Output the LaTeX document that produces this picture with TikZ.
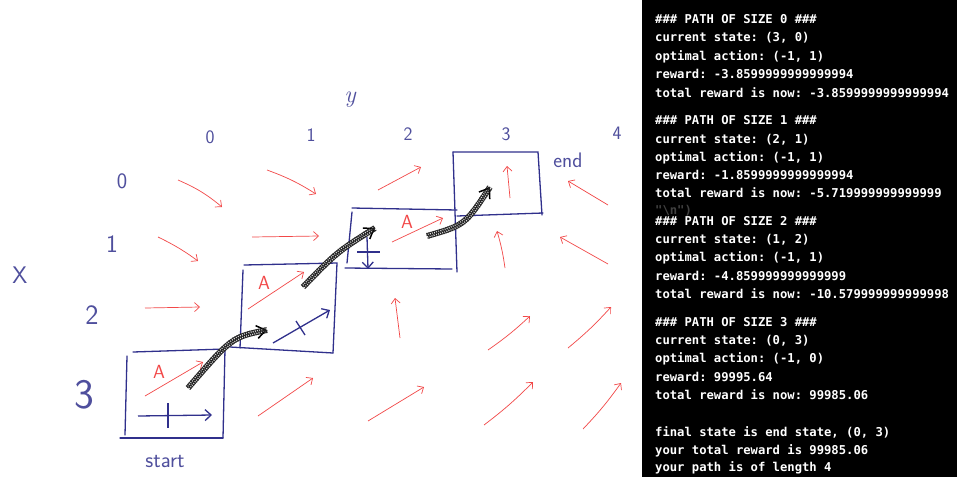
\documentclass[tikz,border=0pt]{standalone}
\usepackage{fontspec}
\setmonofont{DejaVu Sans Mono}
\usetikzlibrary{arrows.meta,decorations.pathmorphing,decorations.markings}
\definecolor{pen}{RGB}{48,48,140}
\definecolor{ink}{RGB}{242,72,72}
\tikzset{
  gridlabel/.style={text=pen!85, font=\sffamily, inner sep=0pt},
  actlabel/.style={text=ink, font=\sffamily\fontsize{19}{20}\selectfont, inner sep=0pt},
  move/.style={ink, line width=0.7pt, -{Straight Barb[length=5pt,width=9pt]}},
  bluemove/.style={pen, line width=1.3pt, -{Straight Barb[length=6pt,width=11pt]}},
  cell/.style={pen, line width=1.3pt, line cap=round},
  hatchpath/.style={black!85, line width=1.1pt, double=white, double distance=3.6pt},
  hatchfill/.style={black!85, line width=0.8pt, decorate,
    decoration={zigzag, amplitude=1.9pt, segment length=2.2pt}},
  hatchtip/.style={postaction={decorate, decoration={markings,
    mark=at position 1 with {\arrow[black, line width=1.5pt]{Straight Barb[length=9pt,width=13pt]}}}}},
  termline/.style={text=white, font=\ttfamily\bfseries\fontsize{12.2}{14}\selectfont,
    anchor=west, inner sep=0pt, text height=9pt, text depth=2.5pt},
}

\begin{document}
\begin{tikzpicture}[x=1pt,y=-1pt]
\useasboundingbox (0,0) rectangle (957,477);
\fill[white] (0,0) rectangle (957,477);

\node[gridlabel, font=\itshape\fontsize{24}{24}\selectfont] (ylab) at (350,100) {y};
\node[gridlabel, font=\sffamily\fontsize{19}{19}\selectfont] (c0) at (210,137) {0};
\node[gridlabel, font=\sffamily\fontsize{19}{19}\selectfont] (c1) at (311,135) {1};
\node[gridlabel, font=\sffamily\fontsize{19}{19}\selectfont] (c2) at (408,134) {2};
\node[gridlabel, font=\sffamily\fontsize{19}{19}\selectfont] (c3) at (506,134) {3};
\node[gridlabel, font=\sffamily\fontsize{19}{19}\selectfont] (c4) at (617,133) {4};
\node[gridlabel, font=\sffamily\fontsize{22}{22}\selectfont] (r0) at (122,181) {0};
\node[gridlabel, font=\sffamily\fontsize{25}{25}\selectfont] (r1) at (112,244) {1};
\node[gridlabel, font=\sffamily\fontsize{24}{24}\selectfont] (xlab) at (20,275) {X};
\node[gridlabel, font=\sffamily\fontsize{28}{28}\selectfont] (r2) at (92,315) {2};
\node[gridlabel, font=\sffamily\fontsize{42}{42}\selectfont] (r3) at (84,395) {3};
\node[gridlabel, font=\sffamily\fontsize{21}{21}\selectfont] (endlab) at (568,160) {end};
\node[gridlabel, font=\sffamily\fontsize{22}{22}\selectfont] (startlab) at (165,461) {start};

\draw[cell] (133,352) -- (225,349) -- (223,438);
\draw[cell] (127,356) -- (125,435);
\draw[cell] (120,438) -- (223,438);
\draw[cell] (244,265) -- (337,263) -- (333,353);
\draw[cell] (243,270) -- (240,348);
\draw[cell] (230,347) -- (333,353);
\draw[cell] (352,208) -- (457,210);
\draw[cell] (352,212) -- (347,263);
\draw[cell] (345,268) -- (452,269);
\draw[cell] (453,152) -- (538,152) -- (542,215);
\draw[cell] (453,152) -- (457,272);
\draw[cell] (457,216) -- (543,213);

\foreach \xa/\ya/\xb/\yb/\b in {
  178/180/222/207/8, 267/170/316/194/6, 378/190/421/167/0,
  510/198/507/166/0, 608/205/568/181/0,
  158/237/198/261/5, 252/237/319/236/0, 392/242/443/218/0,
  505/268/497/231/-4, 608/264/560/237/0,
  145/308/200/307/0, 248/309/304/272/0, 400/338/395/298/0,
  488/350/530/316/-4, 568/348/611/307/-4,
  145/396/203/362/0, 258/416/313/378/0, 368/421/424/387/0,
  484/425/533/382/-4, 583/429/621/383/-4}
  \draw[move] (\xa,\ya) to[bend left=\b] (\xb,\yb);

\node[actlabel] (a0) at (159,372) {A};
\node[actlabel] (a1) at (264,283) {A};
\node[actlabel] (a2) at (407,222) {A};

\draw[bluemove] (138,416) -- (212,415);
\draw[pen, line width=1.3pt] (168,403) -- (168,428);
\draw[bluemove] (273,343) -- (330,310);
\draw[pen, line width=1.3pt] (296,321) -- (305,335);
\draw[bluemove] (367,237) -- (368,269);
\draw[pen, line width=1.3pt] (357,252) -- (380,252);

\foreach \xa/\ya/\xc/\yc/\xb/\yb in {188/388/232/337/267/330,
  303/287/337/252/375/228, 427/236/465/225/490/187} {
  \draw[hatchpath, hatchtip] (\xa,\ya) .. controls (\xc,\yc) .. (\xb,\yb);
  \draw[hatchfill] (\xa,\ya) .. controls (\xc,\yc) .. (\xb,\yb);
}

\fill[black] (642,0) rectangle (957,477);
\foreach \yy/\ln [count=\i] in {
  20/{\#\#\# PATH OF SIZE 0 \#\#\#},
  38/{current state: (3, 0)},
  57/{optimal action: (-1, 1)},
  75/{reward: -3.8599999999999994},
  94/{total reward is now: -3.8599999999999994},
  121/{\#\#\# PATH OF SIZE 1 \#\#\#},
  140/{current state: (2, 1)},
  158/{optimal action: (-1, 1)},
  176/{reward: -1.8599999999999994},
  194/{total reward is now: -5.719999999999999},
  222/{\#\#\# PATH OF SIZE 2 \#\#\#},
  240/{current state: (1, 2)},
  258/{optimal action: (-1, 1)},
  277/{reward: -4.859999999999999},
  295/{total reward is now: -10.579999999999998},
  323/{\#\#\# PATH OF SIZE 3 \#\#\#},
  341/{current state: (0, 3)},
  359/{optimal action: (-1, 0)},
  378/{reward: 99995.64},
  396/{total reward is now: 99985.06},
  433/{final state is end state, (0, 3)},
  451/{your total reward is 99985.06},
  468/{your path is of length 4}}
  \node[termline] (line\i) at (655,\yy) {\ln};
\node[termline, text=white!25!black] (ghost) at (655,211) {"\textbackslash n")};
\end{tikzpicture}
\end{document}
